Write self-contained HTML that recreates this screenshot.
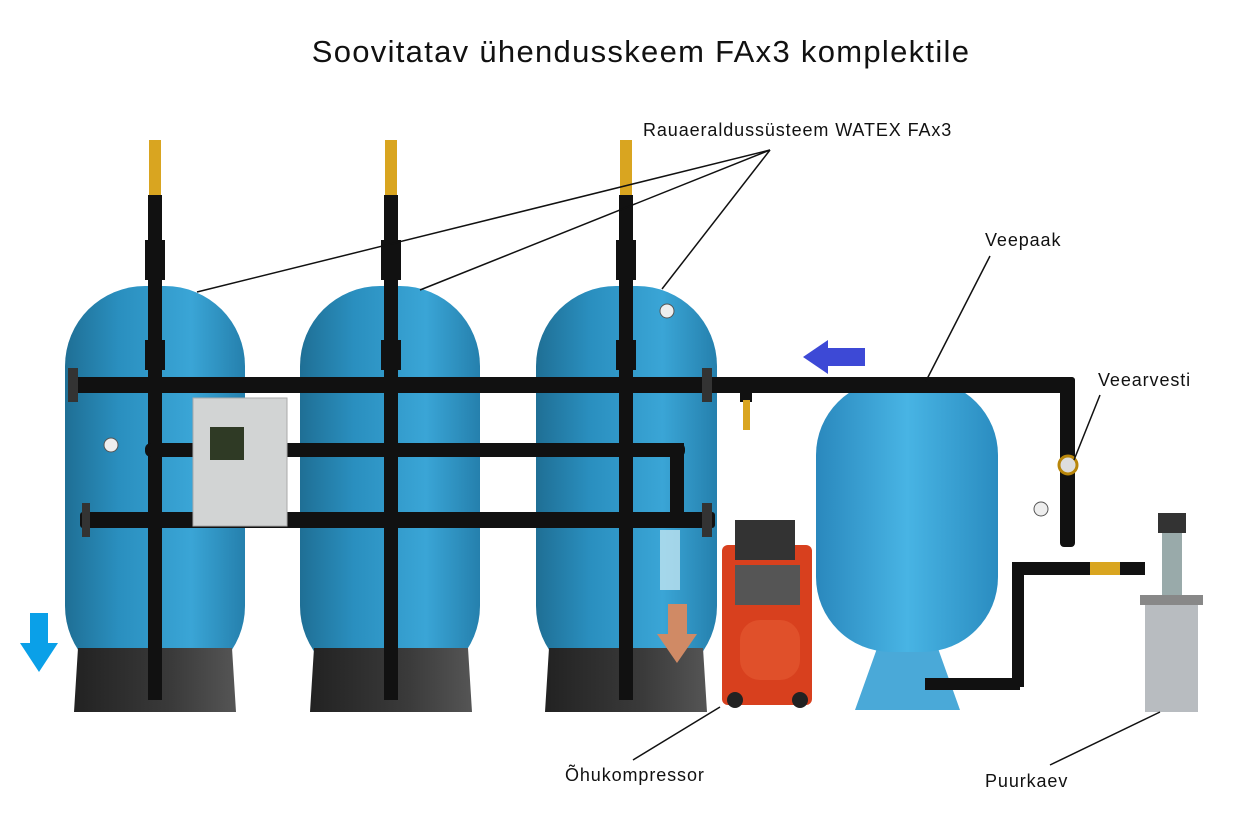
<!DOCTYPE html>
<html><head><meta charset="utf-8"><style>
html,body{margin:0;padding:0;background:#fff;}
svg{display:block;}
text{font-family:"Liberation Sans",sans-serif;fill:#111;}
</style></head><body>
<svg width="1250" height="819" viewBox="0 0 1250 819" xmlns="http://www.w3.org/2000/svg">
<defs>
<linearGradient id="tank" x1="0" x2="1" y1="0" y2="0">
<stop offset="0" stop-color="#1f6f95"/><stop offset="0.3" stop-color="#2a8fbf"/><stop offset="0.7" stop-color="#3aa5d6"/><stop offset="1" stop-color="#2580ad"/></linearGradient>
<linearGradient id="tank2" x1="0" x2="1"><stop offset="0" stop-color="#2a88bd"/><stop offset="0.5" stop-color="#48b4e4"/><stop offset="1" stop-color="#2a8cc0"/></linearGradient>
<linearGradient id="base" x1="0" x2="1"><stop offset="0" stop-color="#222"/><stop offset="0.6" stop-color="#3a3a3a"/><stop offset="1" stop-color="#555"/></linearGradient>
</defs>
<text x="641" y="62" font-size="31" text-anchor="middle" letter-spacing="1.3">Soovitatav ühendusskeem FAx3 komplektile</text>

<!-- tanks -->
<rect x="65" y="286" width="180" height="400" rx="80" fill="url(#tank)"/>
<rect x="300" y="286" width="180" height="400" rx="80" fill="url(#tank)"/>
<rect x="536" y="286" width="181" height="400" rx="80" fill="url(#tank)"/>
<!-- tank bases -->
<path d="M78 648 L232 648 L236 712 L74 712Z" fill="url(#base)"/>
<path d="M314 648 L468 648 L472 712 L310 712Z" fill="url(#base)"/>
<path d="M549 648 L703 648 L707 712 L545 712Z" fill="url(#base)"/>

<!-- expansion tank -->
<path d="M855 710 L880 640 L935 640 L960 710Z" fill="#4aa9d8"/>
<rect x="816" y="380" width="182" height="272" rx="75" fill="url(#tank2)"/>

<!-- vertical pipes -->
<g fill="#111">
<rect x="148" y="195" width="14" height="505"/>
<rect x="384" y="195" width="14" height="505"/>
<rect x="619" y="195" width="14" height="505"/>
<rect x="145" y="240" width="20" height="40"/><rect x="381" y="240" width="20" height="40"/><rect x="616" y="240" width="20" height="40"/>
<rect x="145" y="340" width="20" height="30"/><rect x="381" y="340" width="20" height="30"/><rect x="616" y="340" width="20" height="30"/>
<rect x="70" y="377" width="1005" height="16" rx="3"/>
<rect x="145" y="443" width="540" height="14" rx="6"/>
<rect x="670" y="443" width="14" height="80"/>
<rect x="80" y="512" width="635" height="16" rx="3"/>
<rect x="1060" y="377" width="15" height="170" rx="4"/>
<rect x="1015" y="562" width="130" height="13"/>
<rect x="1012" y="562" width="12" height="125"/>
<rect x="925" y="678" width="95" height="12"/>
<rect x="740" y="377" width="12" height="25"/>
</g>
<g fill="#d9a520"><rect x="149" y="140" width="12" height="55"/><rect x="385" y="140" width="12" height="55"/><rect x="620" y="140" width="12" height="55"/>
<rect x="743" y="400" width="7" height="30"/><rect x="1090" y="562" width="30" height="13"/></g>
<g fill="#333"><rect x="68" y="368" width="10" height="34"/><rect x="702" y="368" width="10" height="34"/><rect x="82" y="503" width="8" height="34"/><rect x="702" y="503" width="10" height="34"/></g>
<circle cx="667" cy="311" r="7" fill="#eee" stroke="#555"/><circle cx="111" cy="445" r="7" fill="#eee" stroke="#555"/><circle cx="1041" cy="509" r="7" fill="#eee" stroke="#555"/>
<circle cx="1068" cy="465" r="9" fill="#ddd" stroke="#b8860b" stroke-width="3"/>
<rect x="660" y="530" width="20" height="60" fill="#bfe3f0" opacity="0.8"/>
<rect x="193" y="398" width="94" height="128" fill="#d2d4d4" stroke="#aaa"/>
<rect x="210" y="427" width="34" height="33" fill="#2f3a25"/>
<rect x="722" y="545" width="90" height="160" rx="6" fill="#d8401e"/>
<rect x="735" y="520" width="60" height="40" fill="#333"/>
<rect x="735" y="565" width="65" height="40" fill="#555"/>
<rect x="740" y="620" width="60" height="60" rx="20" fill="#e0502a"/>
<circle cx="735" cy="700" r="8" fill="#222"/><circle cx="800" cy="700" r="8" fill="#222"/>
<rect x="1145" y="595" width="53" height="117" fill="#b8bcc0"/>
<rect x="1140" y="595" width="63" height="10" fill="#888"/>
<rect x="1162" y="515" width="20" height="80" fill="#9aa"/>
<rect x="1158" y="513" width="28" height="20" fill="#333"/>
<path d="M803 357 L828 340 L828 348 L865 348 L865 366 L828 366 L828 374Z" fill="#3d49d6"/>
<path d="M30 613 L48 613 L48 643 L58 643 L39 672 L20 643 L30 643Z" fill="#0aa0e8"/>
<path d="M668 604 L687 604 L687 634 L697 634 L677 663 L657 634 L668 634Z" fill="#d08a65"/>
<g stroke="#111" stroke-width="1.5" fill="none">
<line x1="770" y1="150" x2="197" y2="292"/><line x1="770" y1="150" x2="420" y2="290"/><line x1="770" y1="150" x2="662" y2="289"/>
<line x1="990" y1="256" x2="926" y2="381"/>
<line x1="1100" y1="395" x2="1074" y2="460"/>
<line x1="633" y1="760" x2="720" y2="707"/>
<line x1="1050" y1="765" x2="1160" y2="712"/>
</g>
<text x="643" y="136" font-size="18" letter-spacing="0.9">Rauaeraldussüsteem WATEX FAx3</text>
<text x="985" y="246" font-size="18" letter-spacing="0.9">Veepaak</text>
<text x="1098" y="386" font-size="18" letter-spacing="0.9">Veearvesti</text>
<text x="565" y="781" font-size="18" letter-spacing="0.9">Õhukompressor</text>
<text x="985" y="787" font-size="18" letter-spacing="0.9">Puurkaev</text>
</svg>
</body></html>
